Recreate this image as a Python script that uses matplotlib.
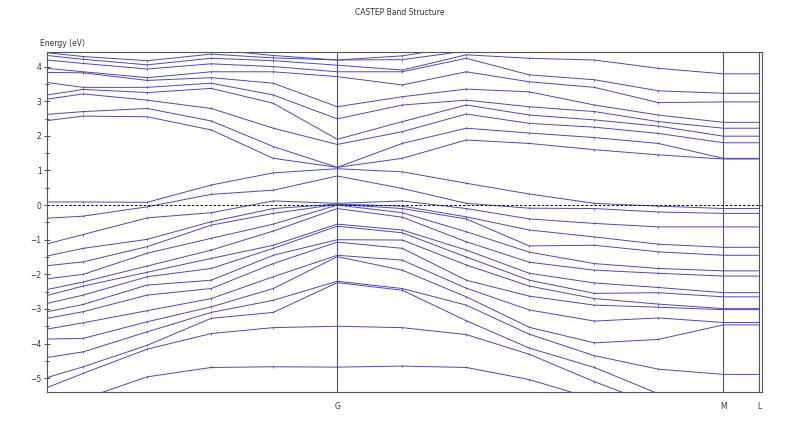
import numpy as np
import matplotlib
matplotlib.use('Agg')
import matplotlib.pyplot as plt

# distance le long du chemin k (unites arbitraires)
k_dist = [0.0, 0.36, 1.00, 1.64, 2.26, 2.90, 3.55, 4.19, 4.82, 5.47, 6.11, 6.76, 7.12]
k_labels = ['G', 'M', 'L']
k_label_pos = [2.90, 6.76, 7.12]

# energies (eV) lues a chaque point k, de haut en bas
e_k0 = [4.6, 4.40, 4.32, 4.19, 3.95, 3.83, 3.54, 3.18, 3.06, 2.62, 2.44,
        0.09, -0.38, -1.12, -1.47, -1.75, -2.13, -2.44, -2.61, -2.84, -3.08, -3.27, -3.58, -3.87, -4.40, -4.98, -5.27, -5.7]
e_k1 = [4.6, 4.29, 4.21, 4.09, 3.85, 3.82, 3.40, 3.34, 3.21, 2.70, 2.57,
        0.09, -0.32, -0.85, -1.25, -1.64, -2.0, -2.22, -2.34, -2.6, -2.87, -3.08, -3.40, -3.85, -4.24, -4.67, -4.86, -5.6]
e_k2 = [4.55, 4.17, 4.05, 3.93, 3.68, 3.60, 3.40, 3.25, 3.03, 2.79, 2.55,
        0.08, -0.05, -0.37, -0.99, -1.2, -1.39, -1.76, -1.94, -2.07, -2.31, -2.60, -3.05, -3.37, -3.66, -4.05, -4.16, -4.96]
e_k3 = [4.5, 4.36, 4.24, 4.08, 3.85, 3.68, 3.52, 3.37, 2.79, 2.43, 2.17,
        0.58, 0.31, -0.22, -0.48, -0.58, -0.96, -1.3, -1.54, -1.83, -2.17, -2.41, -2.70, -2.94, -3.1, -3.27, -3.71, -4.69]
e_k4 = [4.32, 4.25, 4.17, 4.00, 3.85, 3.52, 3.18, 2.94, 2.22, 1.69, 1.35,
        0.93, 0.43, 0.12, -0.1, -0.24, -0.55, -0.75, -1.16, -1.25, -1.45, -1.69, -2.07, -2.41, -2.75, -3.1, -3.54, -4.67]
e_G = [4.19, 4.19, 4.04, 3.85, 3.71, 2.84, 2.49, 1.90, 1.75, 1.09, 1.09,
       1.05, 0.84, 0.05, 0.03, 0.02, 0.0, -0.1, -0.55, -0.61, -1.0, -1.07, -1.45, -1.49, -2.20, -2.24, -3.50, -4.68]
e_k6 = [4.31, 4.2, 3.9, 3.85, 3.47, 3.13, 2.89, 2.41, 2.12, 1.78, 1.35,
        0.96, 0.48, 0.12, -0.03, -0.1, -0.22, -0.35, -0.72, -0.8, -1.01, -1.25, -1.59, -1.88, -2.41, -2.46, -3.54, -4.65]
e_k7 = [4.6, 4.45, 4.34, 4.24, 3.85, 3.35, 3.03, 2.89, 2.63, 2.22, 1.88,
        0.63, 0.05, -0.1, -0.34, -0.4, -0.77, -1.06, -1.3, -1.5, -1.73, -2.17, -2.4, -2.65, -2.89, -3.34, -3.74, -4.69]
e_k8 = [4.6, 4.55, 4.24, 3.76, 3.56, 3.27, 2.84, 2.60, 2.36, 2.08, 1.78,
        0.32, -0.09, -0.40, -0.72, -1.18, -1.36, -1.65, -1.97, -2.17, -2.34, -2.63, -3.03, -3.53, -3.73, -4.13, -4.31, -5.04]
e_k9 = [4.6, 4.55, 4.19, 3.62, 3.40, 2.89, 2.70, 2.46, 2.25, 1.95, 1.60,
        0.05, -0.1, -0.53, -0.92, -1.16, -1.69, -1.88, -2.25, -2.55, -2.70, -2.89, -3.35, -3.98, -4.35, -4.69, -5.1, -5.6]
e_k10 = [4.6, 4.5, 3.95, 3.30, 2.96, 2.60, 2.41, 2.28, 2.07, 1.78, 1.45,
         -0.03, -0.2, -0.63, -1.13, -1.35, -1.83, -1.97, -2.38, -2.53, -2.86, -2.95, -3.26, -3.88, -4.74, -5.45, -5.8, -6.0]
e_M = [4.7, 4.41, 3.79, 3.23, 2.98, 2.39, 2.22, 1.99, 1.80, 1.35, 1.33,
       -0.1, -0.24, -0.63, -1.22, -1.45, -1.90, -2.05, -2.53, -2.65, -2.99, -3.02, -3.39, -3.46, -4.89, -5.7, -5.9, -6.1]
e_L = e_M

bands = np.array([e_k0, e_k1, e_k2, e_k3, e_k4, e_G, e_k6, e_k7, e_k8,
                  e_k9, e_k10, e_M, e_L]).T

fig = plt.figure(figsize=(8, 4.41), dpi=100)
ax = fig.add_axes([0.059, 0.111, 0.894, 0.771])

for b in bands:
    ax.plot(k_dist, b, color='#4646d8', lw=0.7, marker='|', ms=2,
             mew=0.5, mec='#2a2a90')

# niveau de Fermi
ax.axhline(0, color='black', lw=0.7, ls=(0, (2.5, 2)))

# lignes verticales aux points de haute symetrie
for x in k_label_pos:
    ax.axvline(x, color='#555555', lw=0.8)

ax.set_xlim(0, 7.15)
ax.set_ylim(-5.4, 4.42)
ax.set_xticks(k_label_pos)
ax.set_xticklabels(k_labels)
ax.set_yticks(range(-5, 5))
ax.set_yticks(np.arange(-5, 4.5, 0.5), minor=True)
ax.tick_params(axis='x', length=0, labelsize=5.5, pad=7, colors='#333333')
ax.tick_params(axis='y', which='major', direction='inout', length=4, width=0.6,
               labelsize=5.5, pad=2, colors='#333333')
ax.tick_params(axis='y', which='minor', direction='inout', length=2.5, width=0.5)

for s in ax.spines.values():
    s.set_color('#555555')
    s.set_linewidth(0.8)

fig.text(0.5, 0.972, 'CASTEP Band Structure', ha='center', va='center',
         fontsize=5.5, color='#333333')
fig.text(0.05, 0.902, 'Energy (eV)', ha='left', va='center', fontsize=5.5,
         color='#333333')

fig.savefig('out.png', dpi=100)
